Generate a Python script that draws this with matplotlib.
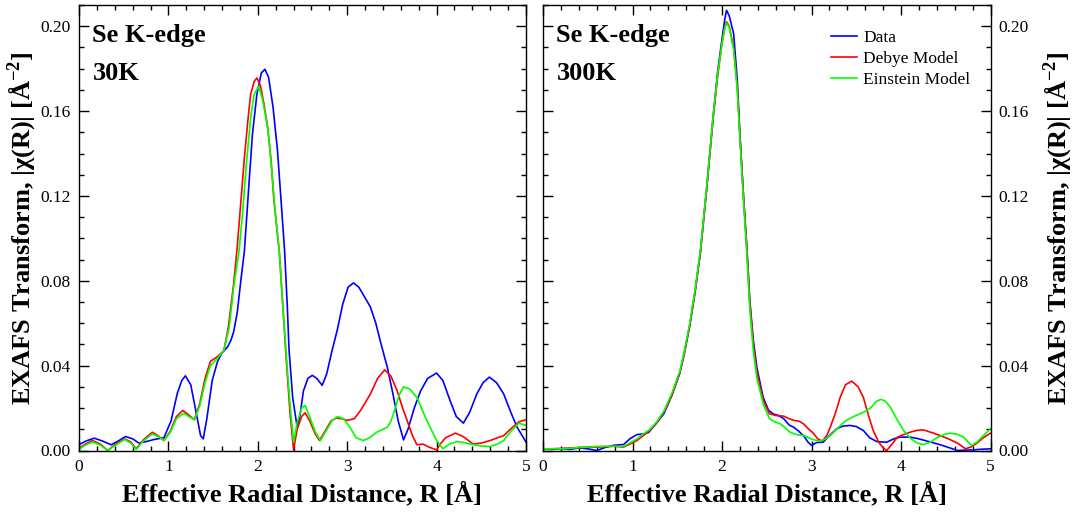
import matplotlib
matplotlib.use('Agg')
import matplotlib.pyplot as plt
import numpy as np
from matplotlib.ticker import MultipleLocator

plt.rcParams['font.family'] = ['Liberation Serif', 'DejaVu Serif']
plt.rcParams['mathtext.fontset'] = 'custom'
plt.rcParams['mathtext.rm'] = 'Liberation Serif'
plt.rcParams['mathtext.bf'] = 'Liberation Serif:bold'

# ---- 30 K (left panel) ----
r_data_30 = [0.00, 0.08, 0.17, 0.26, 0.36, 0.44, 0.52, 0.60, 0.67, 0.75, 0.84, 0.95, 1.03, 1.10, 1.15,
             1.19, 1.25, 1.31, 1.36, 1.39, 1.43, 1.49, 1.55, 1.60, 1.66, 1.70, 1.73, 1.77, 1.81, 1.85,
             1.90, 1.94, 1.99, 2.04, 2.08, 2.12, 2.17, 2.22, 2.26, 2.30, 2.33, 2.35, 2.39, 2.44, 2.47,
             2.51, 2.56, 2.61, 2.66, 2.72, 2.77, 2.83, 2.89, 2.95, 3.01, 3.07, 3.13, 3.20, 3.26, 3.32,
             3.38, 3.45, 3.51, 3.57, 3.63, 3.68, 3.75, 3.82, 3.90, 4.00, 4.07, 4.15, 4.22, 4.30, 4.37,
             4.45, 4.52, 4.59, 4.67, 4.75, 4.83, 4.90, 5.00]
data_30 = [0.0028, 0.0045, 0.0058, 0.0045, 0.0027, 0.0045, 0.0066, 0.0055, 0.0035, 0.0042, 0.0052, 0.0060,
           0.014, 0.027, 0.033, 0.0352, 0.031, 0.018, 0.007, 0.0055, 0.015, 0.033, 0.042, 0.046, 0.0487,
           0.052, 0.056, 0.065, 0.080, 0.094, 0.125, 0.149, 0.168, 0.178, 0.1797, 0.176, 0.162, 0.1415,
           0.118, 0.094, 0.068, 0.047, 0.025, 0.011, 0.016, 0.028, 0.034, 0.0354, 0.034, 0.0307, 0.036,
           0.047, 0.057, 0.069, 0.077, 0.079, 0.077, 0.072, 0.0676, 0.060, 0.050, 0.039, 0.027, 0.014,
           0.005, 0.010, 0.020, 0.028, 0.034, 0.0365, 0.033, 0.0236, 0.016, 0.0129, 0.018, 0.0267, 0.032,
           0.0346, 0.032, 0.0267, 0.018, 0.011, 0.004]

r_debye_30 = [0.00, 0.07, 0.15, 0.24, 0.32, 0.41, 0.51, 0.58, 0.64, 0.72, 0.82, 0.89, 0.95, 1.02, 1.09,
              1.16, 1.22, 1.29, 1.35, 1.41, 1.47, 1.55, 1.62, 1.67, 1.73, 1.77, 1.81, 1.85, 1.89, 1.92,
              1.96, 1.99, 2.03, 2.07, 2.11, 2.15, 2.18, 2.21, 2.24, 2.28, 2.32, 2.36, 2.40, 2.44, 2.49,
              2.53, 2.58, 2.64, 2.69, 2.75, 2.82, 2.88, 2.94, 3.00, 3.08, 3.15, 3.26, 3.34, 3.42, 3.49,
              3.56, 3.62, 3.67, 3.73, 3.78, 3.85, 3.92, 4.00, 4.04, 4.10, 4.21, 4.30, 4.41, 4.50, 4.60,
              4.68, 4.75, 4.85, 4.92, 5.00]
debye_30 = [0.001, 0.003, 0.0047, 0.003, 0.0, 0.003, 0.0055, 0.004, 0.0008, 0.005, 0.0086, 0.0068, 0.0047,
            0.009, 0.016, 0.0189, 0.017, 0.0145, 0.022, 0.034, 0.042, 0.0443, 0.047, 0.058, 0.0786, 0.096,
            0.117, 0.138, 0.156, 0.168, 0.174, 0.1756, 0.172, 0.163, 0.1525, 0.136, 0.118, 0.106, 0.094,
            0.068, 0.042, 0.018, 0.0003, 0.010, 0.016, 0.0178, 0.014, 0.008, 0.0047, 0.009, 0.014, 0.0153,
            0.015, 0.0142, 0.015, 0.0189, 0.0267, 0.034, 0.038, 0.035, 0.028, 0.020, 0.0142, 0.007, 0.0027,
            0.003, 0.0015, 0.0003, 0.003, 0.006, 0.0082, 0.0065, 0.003, 0.0035, 0.0047, 0.006, 0.007, 0.011,
            0.0135, 0.0145]

r_einstein_30 = [0.00, 0.07, 0.15, 0.24, 0.32, 0.41, 0.51, 0.58, 0.64, 0.72, 0.82, 0.89, 0.95, 1.02, 1.09,
                 1.17, 1.23, 1.29, 1.35, 1.41, 1.47, 1.55, 1.62, 1.68, 1.73, 1.79, 1.83, 1.87, 1.92, 1.96,
                 2.01, 2.05, 2.09, 2.12, 2.16, 2.20, 2.24, 2.28, 2.32, 2.36, 2.40, 2.44, 2.49, 2.53, 2.58,
                 2.64, 2.70, 2.76, 2.83, 2.89, 2.96, 3.03, 3.10, 3.18, 3.25, 3.33, 3.40, 3.45, 3.49, 3.53,
                 3.58, 3.63, 3.70, 3.78, 3.84, 3.89, 3.95, 4.00, 4.07, 4.14, 4.23, 4.30, 4.38, 4.48, 4.60,
                 4.68, 4.75, 4.83, 4.92, 5.00]
einstein_30 = [0.0005, 0.0025, 0.004, 0.0025, 0.0, 0.0025, 0.0052, 0.0035, 0.0005, 0.0045, 0.0078, 0.0065,
               0.0047, 0.0085, 0.015, 0.0175, 0.016, 0.0145, 0.021, 0.032, 0.040, 0.0435, 0.047, 0.058, 0.077,
               0.094, 0.112, 0.134, 0.157, 0.168, 0.1717, 0.166, 0.157, 0.149, 0.130, 0.110, 0.094, 0.068,
               0.044, 0.022, 0.0039, 0.013, 0.020, 0.0212, 0.016, 0.009, 0.0047, 0.009, 0.014, 0.016, 0.015,
               0.011, 0.006, 0.0047, 0.006, 0.0086, 0.010, 0.011, 0.014, 0.0189, 0.026, 0.030, 0.029, 0.025,
               0.019, 0.0142, 0.009, 0.0047, 0.0008, 0.003, 0.0042, 0.0038, 0.003, 0.0022, 0.0019, 0.003,
               0.0047, 0.009, 0.0129, 0.0118]

# ---- 300 K (right panel) ----
r_data_300 = [0.00, 0.10, 0.20, 0.30, 0.40, 0.50, 0.60, 0.70, 0.80, 0.90, 0.97, 1.05, 1.12, 1.18, 1.25,
              1.35, 1.44, 1.53, 1.58, 1.64, 1.70, 1.76, 1.83, 1.90, 1.95, 2.00, 2.03, 2.05, 2.08, 2.13,
              2.17, 2.20, 2.24, 2.28, 2.31, 2.35, 2.39, 2.46, 2.52, 2.57, 2.63, 2.69, 2.75, 2.80, 2.86,
              2.92, 2.96, 3.00, 3.06, 3.13, 3.20, 3.28, 3.35, 3.43, 3.50, 3.58, 3.65, 3.73, 3.84, 3.92,
              3.99, 4.10, 4.18, 4.26, 4.33, 4.43, 4.52, 4.63, 4.72, 4.81, 4.90, 5.00]
data_300 = [0.0008, 0.0005, 0.0008, 0.0005, 0.0012, 0.0008, 0.0, 0.0015, 0.0025, 0.0028, 0.0055, 0.0075,
            0.0078, 0.0085, 0.012, 0.0173, 0.026, 0.0366, 0.046, 0.059, 0.075, 0.094, 0.124, 0.157, 0.178,
            0.194, 0.203, 0.2075, 0.205, 0.1965, 0.175, 0.149, 0.120, 0.094, 0.071, 0.052, 0.039, 0.025,
            0.019, 0.0173, 0.0165, 0.015, 0.012, 0.011, 0.009, 0.0065, 0.004, 0.0024, 0.0038, 0.0039, 0.007,
            0.0102, 0.0115, 0.0118, 0.0113, 0.0094, 0.006, 0.0042, 0.0039, 0.0055, 0.0063, 0.0063, 0.0057,
            0.0048, 0.004, 0.0028, 0.0016, 0.0, 0.0002, 0.0003, 0.0006, 0.0008]

r_debye_300 = [0.00, 0.10, 0.20, 0.30, 0.40, 0.50, 0.60, 0.70, 0.80, 0.90, 0.97, 1.05, 1.12, 1.19, 1.27,
               1.35, 1.44, 1.53, 1.58, 1.64, 1.70, 1.76, 1.83, 1.90, 1.95, 2.00, 2.03, 2.05, 2.08, 2.13,
               2.17, 2.20, 2.24, 2.28, 2.31, 2.35, 2.39, 2.46, 2.53, 2.60, 2.69, 2.75, 2.80, 2.86, 2.91,
               2.97, 3.02, 3.07, 3.12, 3.17, 3.21, 3.27, 3.32, 3.38, 3.45, 3.52, 3.58, 3.64, 3.69, 3.75,
               3.80, 3.84, 3.90, 3.96, 4.03, 4.10, 4.18, 4.25, 4.34, 4.44, 4.53, 4.63, 4.72, 4.79, 4.85,
               4.92, 5.00]
debye_300 = [0.0008, 0.0008, 0.001, 0.0012, 0.0014, 0.0016, 0.0016, 0.0018, 0.002, 0.0016, 0.003, 0.0047,
             0.007, 0.0094, 0.013, 0.0181, 0.026, 0.037, 0.046, 0.059, 0.075, 0.094, 0.124, 0.156, 0.176,
             0.192, 0.199, 0.2021, 0.200, 0.190, 0.172, 0.149, 0.120, 0.094, 0.070, 0.050, 0.037, 0.0236,
             0.0173, 0.0165, 0.0162, 0.015, 0.0142, 0.0138, 0.0126, 0.010, 0.0082, 0.0055, 0.0044, 0.007,
             0.011, 0.018, 0.025, 0.031, 0.0327, 0.030, 0.025, 0.016, 0.0094, 0.004, 0.0012, 0.0, 0.003,
             0.0063, 0.0075, 0.0086, 0.0095, 0.0097, 0.0085, 0.007, 0.0055, 0.0035, 0.0008, 0.0018, 0.0035,
             0.006, 0.0082]

r_einstein_300 = [0.00, 0.10, 0.23, 0.30, 0.40, 0.50, 0.60, 0.70, 0.80, 0.90, 0.97, 1.05, 1.12, 1.19, 1.27,
                  1.35, 1.44, 1.53, 1.58, 1.64, 1.70, 1.76, 1.83, 1.90, 1.95, 2.00, 2.03, 2.05, 2.08, 2.13,
                  2.17, 2.20, 2.24, 2.28, 2.31, 2.35, 2.39, 2.46, 2.53, 2.59, 2.65, 2.70, 2.76, 2.83, 2.91,
                  2.97, 3.02, 3.10, 3.16, 3.21, 3.28, 3.34, 3.39, 3.47, 3.58, 3.66, 3.72, 3.77, 3.82, 3.88,
                  3.95, 4.03, 4.10, 4.18, 4.25, 4.33, 4.40, 4.48, 4.55, 4.63, 4.70, 4.75, 4.79, 4.85, 4.92,
                  5.00]
einstein_300 = [0.0008, 0.0008, 0.0008, 0.001, 0.0014, 0.0016, 0.0019, 0.002, 0.002, 0.0019, 0.0035, 0.0055,
                0.0078, 0.0098, 0.0135, 0.0185, 0.027, 0.0375, 0.047, 0.060, 0.076, 0.095, 0.125, 0.157,
                0.177, 0.192, 0.199, 0.2016, 0.1995, 0.189, 0.170, 0.147, 0.118, 0.091, 0.067, 0.047, 0.034,
                0.022, 0.015, 0.0135, 0.0126, 0.011, 0.0086, 0.0075, 0.0071, 0.006, 0.0051, 0.0044, 0.0055,
                0.007, 0.010, 0.0125, 0.0142, 0.016, 0.018, 0.020, 0.023, 0.0241, 0.0235, 0.0205, 0.015,
                0.0094, 0.006, 0.0035, 0.0028, 0.004, 0.006, 0.0075, 0.0082, 0.0076, 0.0063, 0.004, 0.0024,
                0.004, 0.007, 0.0102]

labels = ['Data', 'Debye Model', 'Einstein Model']
colors = ['#0000ff', '#ff0000', '#00ff00']

fig = plt.figure(figsize=(10.82, 5.14), dpi=100)
ax1 = fig.add_axes([79 / 1082, 1 - 450.5 / 514, (526 - 79) / 1082, 445.5 / 514])
ax2 = fig.add_axes([543 / 1082, 1 - 450.5 / 514, (990.5 - 543) / 1082, 445.5 / 514])

ylab = r'EXAFS Transform, |χ(R)| [Å$^{\mathbf{-2}}$]'
xlab = 'Effective Radial Distance, R [Å]'

panels = [
    (ax1, [(r_data_30, data_30), (r_debye_30, debye_30), (r_einstein_30, einstein_30)], '30K'),
    (ax2, [(r_data_300, data_300), (r_debye_300, debye_300), (r_einstein_300, einstein_300)], '300K'),
]

for ax, series, temp in panels:
    for (r, y), c, lab in zip(series, colors, labels):
        ax.plot(r, y, color=c, lw=1.2, label=lab)
    ax.set_xlim(0, 5)
    ax.set_ylim(0, 0.21)
    ax.xaxis.set_major_locator(MultipleLocator(1))
    ax.xaxis.set_minor_locator(MultipleLocator(0.2))
    ax.yaxis.set_major_locator(MultipleLocator(0.04))
    ax.yaxis.set_minor_locator(MultipleLocator(0.01))
    ax.yaxis.set_major_formatter(plt.FormatStrFormatter('%.2f'))
    ax.tick_params(which='both', direction='in', top=True, bottom=True, left=True, right=True,
                   labelsize=12.5, width=1.0)
    ax.tick_params(which='major', length=7, pad=6)
    ax.tick_params(which='minor', length=3.5)
    for s in ax.spines.values():
        s.set_linewidth(1.0)
    ax.set_xlabel(xlab, fontsize=19, fontweight='bold', labelpad=5)
    ax.text(0.03, 0.958, 'Se K-edge', transform=ax.transAxes, fontsize=19, fontweight='bold', va='top')
    ax.text(0.03, 0.873, temp, transform=ax.transAxes, fontsize=19, fontweight='bold', va='top')

ax1.set_ylabel(ylab, fontsize=19, fontweight='bold', labelpad=1)
ax2.yaxis.tick_right()
ax2.tick_params(which='both', left=True, right=True, labelleft=False, labelright=True)
ax2.yaxis.set_label_position('right')
ax2.set_ylabel(ylab, fontsize=19, fontweight='bold', labelpad=9, rotation=90)

ax2.legend(loc='upper right', bbox_to_anchor=(0.99, 0.98), frameon=False, fontsize=12.5,
           handlelength=1.5, handletextpad=0.35, labelspacing=0.3)

fig.savefig('out.png', dpi=100)
